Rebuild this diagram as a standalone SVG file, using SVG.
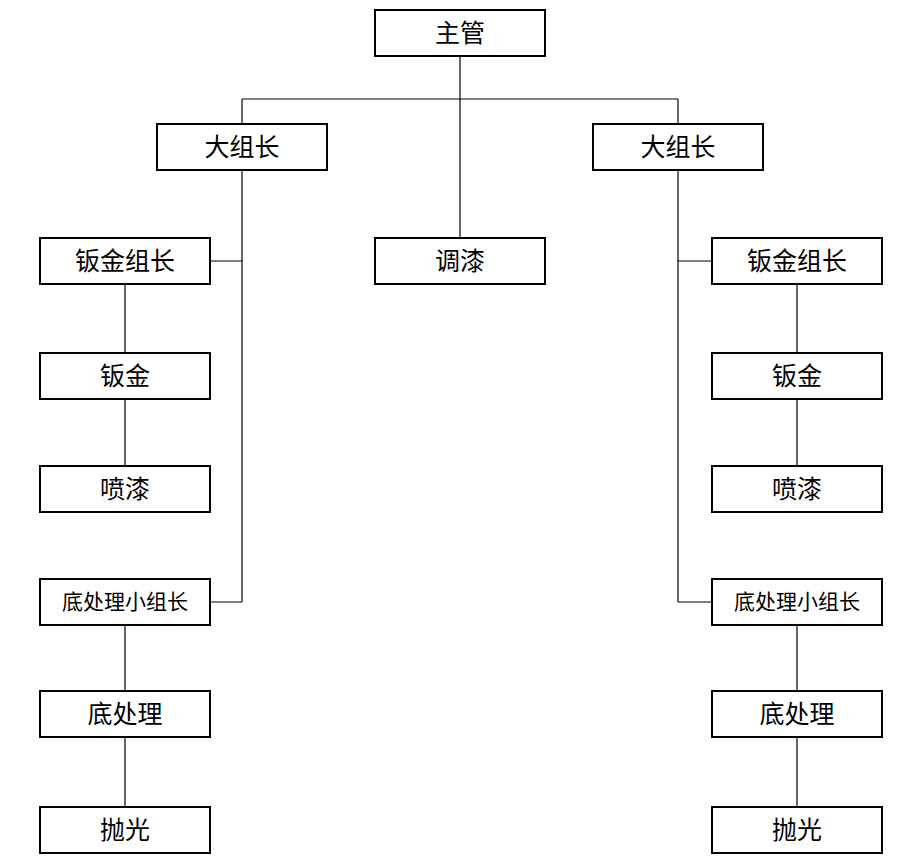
<svg xmlns="http://www.w3.org/2000/svg" width="922" height="867" viewBox="0 0 922 867">
<style>
.box{fill:#fff;stroke:#000;stroke-width:2}
.lbl{font-family:"Noto Sans CJK SC","Microsoft YaHei",sans-serif;font-size:25px;fill:#000;text-anchor:middle;dominant-baseline:central}
.sm{font-size:21px}
.ln{stroke:#000;stroke-width:1.2;fill:none}
</style>
<rect width="922" height="867" fill="#fff"/>
<g id="connectors">
<path class="ln" d="M460 56V238M242 99H678M242 99V124M678 99V124"/>
<path class="ln" d="M242 170V602M210 261H242M210 602H242"/>
<path class="ln" d="M678 170V602M678 261H712M678 602H712"/>
<path class="ln" d="M125 284V353M125 399V466M125 625V691M125 737V807"/>
<path class="ln" d="M797 284V353M797 399V466M797 625V691M797 737V807"/>
</g>
<g id="n-zhuguan"><rect class="box" x="375" y="10" width="170" height="46"/><text class="lbl" x="460" y="31">主管</text></g>
<g id="n-dazuzhang-l"><rect class="box" x="157" y="124" width="170" height="46"/><text class="lbl" x="242" y="145">大组长</text></g>
<g id="n-dazuzhang-r"><rect class="box" x="593" y="124" width="170" height="46"/><text class="lbl" x="678" y="145">大组长</text></g>
<g id="n-tiaoqi"><rect class="box" x="375" y="238" width="170" height="46"/><text class="lbl" x="460" y="259">调漆</text></g>
<g id="n-banjinzuzhang-l"><rect class="box" x="40" y="238" width="170" height="46"/><text class="lbl" x="125" y="259">钣金组长</text></g>
<g id="n-banjin-l"><rect class="box" x="40" y="353" width="170" height="46"/><text class="lbl" x="125" y="374">钣金</text></g>
<g id="n-penqi-l"><rect class="box" x="40" y="466" width="170" height="46"/><text class="lbl" x="125" y="487">喷漆</text></g>
<g id="n-dichulixiaozu-l"><rect class="box" x="40" y="579" width="170" height="46"/><text class="lbl sm" x="125" y="600">底处理小组长</text></g>
<g id="n-dichuli-l"><rect class="box" x="40" y="691" width="170" height="46"/><text class="lbl" x="125" y="712">底处理</text></g>
<g id="n-paoguang-l"><rect class="box" x="40" y="807" width="170" height="46"/><text class="lbl" x="125" y="828">抛光</text></g>
<g id="n-banjinzuzhang-r"><rect class="box" x="712" y="238" width="170" height="46"/><text class="lbl" x="797" y="259">钣金组长</text></g>
<g id="n-banjin-r"><rect class="box" x="712" y="353" width="170" height="46"/><text class="lbl" x="797" y="374">钣金</text></g>
<g id="n-penqi-r"><rect class="box" x="712" y="466" width="170" height="46"/><text class="lbl" x="797" y="487">喷漆</text></g>
<g id="n-dichulixiaozu-r"><rect class="box" x="712" y="579" width="170" height="46"/><text class="lbl sm" x="797" y="600">底处理小组长</text></g>
<g id="n-dichuli-r"><rect class="box" x="712" y="691" width="170" height="46"/><text class="lbl" x="797" y="712">底处理</text></g>
<g id="n-paoguang-r"><rect class="box" x="712" y="807" width="170" height="46"/><text class="lbl" x="797" y="828">抛光</text></g>
</svg>
